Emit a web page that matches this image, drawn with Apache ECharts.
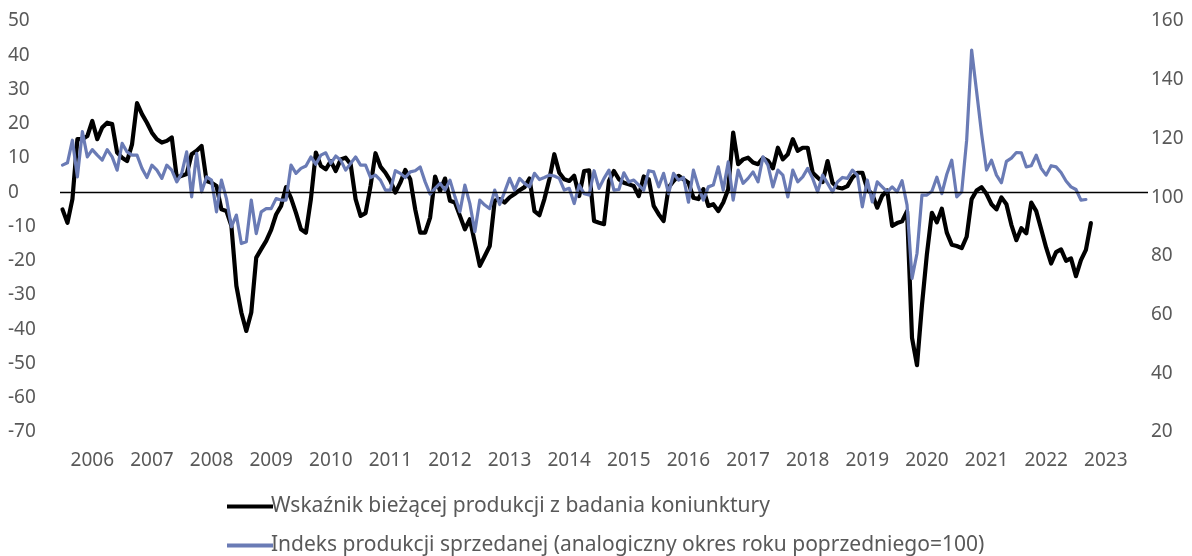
<!DOCTYPE html>
<html>
<head>
<meta charset="utf-8">
<script src="https://cdn.jsdelivr.net/npm/echarts@6/dist/echarts.min.js"></script>
<style>
  html, body { margin: 0; padding: 0; background: #fff; }
  #chart { width: 1192px; height: 556px; }
</style>
</head>
<body>
<div id="chart"></div>
<script>
// year labels on the x axis (drawn at mid-year)
const yearLabels = ['2006', '2007', '2008', '2009', '2010', '2011', '2012', '2013', '2014',
  '2015', '2016', '2017', '2018', '2019', '2020', '2021', '2022', '2023']

// monthly data from Jan 2006
const koniunktura = [
  -5.0, -8.9, -2.0, 15.5, 15.5, 16.4, 20.8, 15.5, 18.9, 20.3, 19.9, 11.6,
  10.1, 9.1, 14.0, 26.0, 22.8, 20.3, 17.4, 15.5, 14.5, 15.0, 16.0, 4.3,
  4.8, 5.3, 11.1, 12.1, 13.5, 3.3, 2.8, 1.8, -5.0, -5.5, -9.8, -27.3,
  -35.1, -40.5, -35.1, -19.1, -16.6, -14.2, -11.0, -6.5, -4.0, 1.5, -1.7, -6.0,
  -10.8, -11.8, -2.0, 11.6, 7.7, 6.7, 9.1, 6.2, 9.6, 10.1, 8.2, -2.0,
  -6.9, -6.1, 1.8, 11.4, 7.5, 5.7, 3.3, -0.1, 2.8, 6.5, 3.8, -5.0,
  -11.8, -11.8, -7.4, 4.6, 0.4, 4.0, -2.5, -3.0, -6.9, -10.8, -7.9, -14.7,
  -21.5, -18.6, -15.7, -2.5, -2.0, -3.0, -1.5, -0.5, 0.6, 1.5, 4.0, -5.5,
  -6.7, -2.0, 3.8, 11.1, 5.7, 3.8, 3.3, 4.8, -1.1, 6.2, 6.4, -8.4,
  -8.9, -9.3, 3.3, 6.2, 3.8, 2.8, 2.3, 1.8, -1.1, 4.6, 3.8, -4.0,
  -6.4, -8.4, 1.4, 3.3, 4.8, 3.8, 2.8, -1.6, -2.0, 0.9, -4.0, -3.5,
  -5.5, -3.0, 0.9, 17.4, 8.2, 9.6, 10.1, 8.7, 8.2, 10.0, 9.2, 7.0,
  13.0, 9.6, 11.1, 15.5, 12.1, 13.0, 13.0, 5.7, 4.3, 3.0, 9.1, 2.8,
  1.4, 1.1, 1.8, 4.3, 5.7, 5.7, 0.9, -0.6, -4.5, -1.0, 0.5, -9.8,
  -9.0, -8.5, -5.5, -42.5, -50.5, -33.0, -18.0, -6.0, -8.8, -4.8, -11.8, -15.3,
  -15.7, -16.3, -13.0, -2.0, 0.5, 1.5, -0.5, -3.5, -5.0, -1.5, -3.5, -9.5,
  -14.0, -10.5, -12.0, -3.0, -5.5, -10.8, -16.2, -20.8, -17.5, -16.7, -20.0, -19.3,
  -24.5, -19.8, -16.8, -9.0
]

const produkcja = [
  110.9, 111.7, 119.4, 106.9, 122.3, 113.7, 116.2, 114.3, 112.6, 116.2, 113.7, 109.2,
  118.3, 115.4, 114.3, 114.3, 109.8, 106.7, 110.9, 109.2, 106.4, 110.9, 109.2, 105.2,
  108.1, 115.4, 100.1, 114.9, 101.8, 106.9, 105.8, 95.0, 105.8, 99.5, 89.9, 93.9,
  84.2, 84.8, 99.0, 87.6, 95.0, 96.1, 96.1, 99.5, 99.0, 99.0, 110.9, 108.1,
  109.8, 110.6, 113.7, 111.2, 114.3, 115.1, 111.5, 114.0, 112.6, 109.2, 111.5, 113.7,
  110.9, 110.9, 106.7, 107.5, 105.8, 102.4, 102.4, 109.0, 108.1, 106.7, 108.6, 109.0,
  110.3, 105.2, 101.0, 103.0, 104.7, 102.4, 105.8, 100.1, 95.0, 104.1, 97.8, 88.2,
  99.0, 97.3, 96.1, 102.4, 97.5, 101.8, 106.4, 102.4, 106.4, 104.7, 103.5, 108.1,
  106.0, 106.7, 107.5, 107.2, 106.4, 102.4, 103.0, 97.8, 104.1, 101.2, 100.7, 109.0,
  103.0, 106.4, 109.2, 102.4, 102.6, 108.3, 105.2, 105.8, 104.1, 102.4, 109.0, 108.6,
  103.5, 108.1, 101.2, 108.1, 105.8, 106.7, 98.3, 109.2, 103.5, 99.0, 103.5, 104.1,
  110.3, 102.4, 112.0, 99.0, 109.2, 104.7, 106.4, 108.6, 105.2, 113.7, 110.9, 103.5,
  109.2, 107.5, 100.1, 109.2, 105.2, 106.9, 109.8, 106.4, 101.8, 107.5, 104.7, 101.8,
  105.2, 106.7, 106.4, 109.2, 107.5, 96.7, 105.8, 98.4, 105.2, 103.5, 101.8, 103.5,
  101.8, 105.6, 97.3, 72.3, 80.8, 100.7, 100.7, 102.0, 106.8, 101.2, 107.8, 112.6,
  100.1, 101.8, 119.4, 150.1, 136.0, 121.7, 109.2, 112.6, 107.5, 104.9, 112.2, 113.3,
  115.2, 115.1, 110.3, 110.7, 114.3, 109.8, 107.5, 110.7, 110.3, 108.4, 105.5, 103.5,
  102.6, 99.0, 99.2
]

const seriesNames = [
  'Wskaźnik bieżącej produkcji z badania koniunktury',
  'Indeks produkcji sprzedanej (analogiczny okres roku poprzedniego=100)'
]

// month categories, the plot area runs a bit past the last data point
const months = []
for (let y = 2006; y <= 2024; y++) {
  for (let m = 1; m <= 12; m++) {
    months.push(y + '-' + String(m).padStart(2, '0'))
  }
}
months.length = 219

const FONT = '"Noto Sans", "Open Sans", sans-serif'
const GREY = '#595959'

// one legend block per entry, stacked under the chart
const legendItem = (name, top) => ({
  left: 222,
  top: top,
  itemWidth: 46,
  itemHeight: 4,
  icon: 'rect',
  textStyle: { fontSize: 21, color: GREY, fontFamily: FONT, padding: [0, 0, 0, -7] },
  data: [name]
})

const chart = echarts.init(document.getElementById('chart'))

chart.setOption({
  animation: false,
  textStyle: { fontFamily: FONT },
  grid: { left: 60, right: 44, top: 21, bottom: 124 },
  legend: [
    legendItem(seriesNames[0], 491),
    legendItem(seriesNames[1], 530)
  ],
  xAxis: {
    type: 'category',
    data: months,
    boundaryGap: true,
    axisLine: { show: false },
    axisTick: { show: false },
    splitLine: { show: false },
    axisLabel: {
      interval: (idx, val) => val.endsWith('-07') && yearLabels.includes(val.slice(0, 4)),
      formatter: val => val.slice(0, 4),
      color: GREY,
      fontSize: 19,
      margin: 19
    }
  },
  yAxis: [
    {
      type: 'value',
      min: -70,
      max: 50,
      interval: 10,
      splitLine: { show: false },
      axisLine: { show: false },
      axisTick: { show: false },
      axisLabel: { color: GREY, fontSize: 19, align: 'left', margin: 52 }
    },
    {
      type: 'value',
      min: 20,
      max: 160,
      interval: 20,
      position: 'right',
      splitLine: { show: false },
      axisLine: { show: false },
      axisTick: { show: false },
      axisLabel: { color: GREY, fontSize: 19, align: 'left', margin: 3 }
    }
  ],
  series: [
    {
      name: seriesNames[0],
      type: 'line',
      yAxisIndex: 0,
      data: koniunktura,
      showSymbol: false,
      color: '#000000',
      lineStyle: { color: '#000000', width: 4.2, cap: 'round', join: 'round' },
      markLine: {
        silent: true,
        symbol: 'none',
        label: { show: false },
        lineStyle: { color: '#000000', width: 1.3, type: 'solid' },
        data: [{ yAxis: 0 }]
      },
      z: 2
    },
    {
      name: seriesNames[1],
      type: 'line',
      yAxisIndex: 1,
      data: produkcja,
      showSymbol: false,
      color: '#6a7bb5',
      lineStyle: { color: '#6a7bb5', width: 3.2, cap: 'round', join: 'round' },
      z: 3
    }
  ]
})
</script>
</body>
</html>
